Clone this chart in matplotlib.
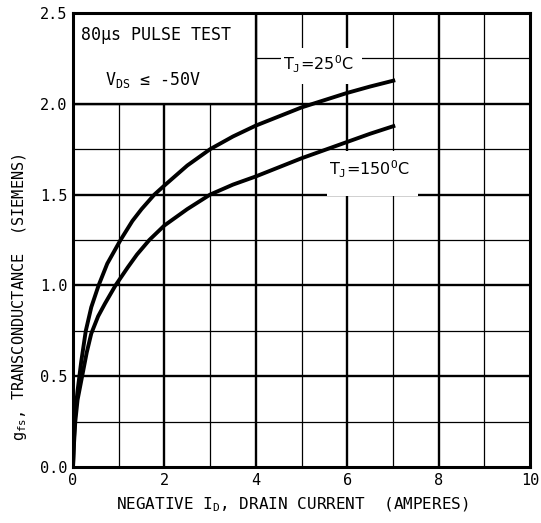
import numpy as np
import matplotlib
matplotlib.use("Agg")
import matplotlib.pyplot as plt
from matplotlib.patches import Rectangle

# drain current (A) and transconductance (S)
id_25 = [0, 0.02, 0.05, 0.1, 0.18, 0.28, 0.4, 0.56, 0.75, 1.04, 1.3, 1.5, 1.78, 2.0,
         2.5, 3.0, 3.5, 4.0, 4.5, 5.0, 5.5, 6.0, 6.5, 7.05]
gfs_25 = [0, 0.15, 0.3, 0.42, 0.58, 0.75, 0.88, 1.0, 1.12, 1.25, 1.355, 1.42, 1.5, 1.55,
          1.66, 1.75, 1.82, 1.88, 1.93, 1.98, 2.02, 2.06, 2.095, 2.13]

id_150 = [0, 0.02, 0.05, 0.1, 0.2, 0.3, 0.4, 0.55, 0.7, 0.93, 1.2, 1.4, 1.67, 2.0,
          2.5, 3.0, 3.5, 4.0, 4.5, 5.0, 5.5, 6.0, 6.5, 7.05]
gfs_150 = [0, 0.12, 0.25, 0.37, 0.5, 0.63, 0.735, 0.83, 0.9, 1.0, 1.1, 1.17, 1.25, 1.33,
           1.42, 1.5, 1.555, 1.6, 1.65, 1.7, 1.745, 1.79, 1.835, 1.88]

x_ticks = [0, 2, 4, 6, 8, 10]
y_ticks = [0.0, 0.5, 1.0, 1.5, 2.0, 2.5]

plt.rcParams['font.family'] = 'DejaVu Sans Mono'
plt.rcParams['mathtext.fontset'] = 'custom'
plt.rcParams['mathtext.rm'] = 'DejaVu Sans Mono'
plt.rcParams['mathtext.it'] = 'DejaVu Sans Mono'

fig = plt.figure(figsize=(5.41, 5.23), dpi=100)
ax = fig.add_axes([73/541, 56/523, 457/541, 454/523])
ax.set_xlim(0, 10)
ax.set_ylim(0, 2.5)

# grid: heavy lines on labelled values, light lines in between
for xv in np.arange(1, 10):
    lw = 1.7 if xv % 2 == 0 else 0.9
    ax.axvline(xv, color='black', lw=lw, zorder=1)
for yv in np.arange(0.25, 2.5, 0.25):
    lw = 1.7 if abs(yv * 2 - round(yv * 2)) < 1e-6 else 0.9
    ax.axhline(yv, color='black', lw=lw, zorder=1)

# test-condition box in the upper left
ax.add_patch(Rectangle((0, 2.0), 4, 0.5, facecolor='white', edgecolor='black',
                       lw=1.7, zorder=2))
ax.text(0.18, 2.38, '80\u00b5s PULSE TEST', fontsize=12, va='center', zorder=3)
ax.text(0.7, 2.13, 'V$_\\mathrm{DS}$ \u2264 -50V', fontsize=12, va='center', zorder=3)

# white gaps in the grid behind the curve labels
ax.add_patch(Rectangle((4.55, 2.11), 1.78, 0.2, facecolor='white', edgecolor='none', zorder=2))
ax.add_patch(Rectangle((5.56, 1.49), 1.98, 0.25, facecolor='white', edgecolor='none', zorder=2))

ax.plot(id_25, gfs_25, color='black', lw=2.8, zorder=4, solid_capstyle='butt')
ax.plot(id_150, gfs_150, color='black', lw=2.8, zorder=4, solid_capstyle='butt')

ax.text(4.6, 2.215, 'T$_\\mathrm{J}$=25$^\\mathrm{O}$C', family='DejaVu Sans',
        fontsize=11.5, va='center', zorder=5)
ax.text(5.6, 1.64, 'T$_\\mathrm{J}$=150$^\\mathrm{O}$C', family='DejaVu Sans',
        fontsize=11.5, va='center', zorder=5)

for side in ['left', 'right', 'top', 'bottom']:
    ax.spines[side].set_linewidth(2.2)
    ax.spines[side].set_zorder(6)

ax.set_xticks(x_ticks)
ax.set_xticklabels([str(v) for v in x_ticks])
ax.set_yticks(y_ticks)
ax.set_yticklabels(['%.1f' % v for v in y_ticks])
ax.tick_params(length=0, labelsize=11, pad=4)

ax.set_xlabel('NEGATIVE I$_\\mathrm{D}$, DRAIN CURRENT  (AMPERES)', fontsize=11.5)
ax.xaxis.set_label_coords(0.48, -0.062)
ax.set_ylabel('g$_\\mathrm{fs}$, TRANSCONDUCTANCE  (SIEMENS)', fontsize=11)
ax.yaxis.set_label_coords(-0.097, 0.375)

fig.savefig('out.png', dpi=100)
